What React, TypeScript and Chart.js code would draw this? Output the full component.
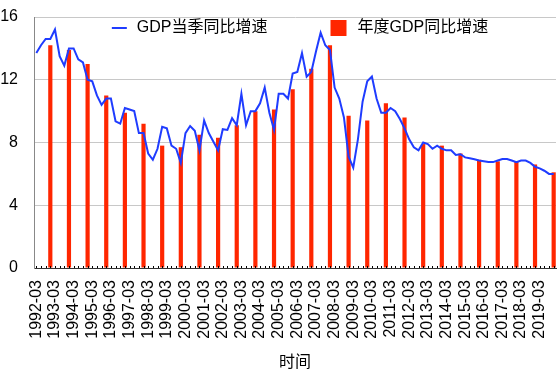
import React, { useEffect, useRef } from 'react';
import { Chart, registerables } from 'chart.js';

Chart.register(...registerables);

const FONT = '"Liberation Sans", Arial, "Noto Sans CJK SC", sans-serif';

const years = [
  1992, 1993, 1994, 1995, 1996, 1997, 1998, 1999, 2000, 2001, 2002, 2003, 2004, 2005,
  2006, 2007, 2008, 2009, 2010, 2011, 2012, 2013, 2014, 2015, 2016, 2017, 2018, 2019,
];
const quarterMonths = ['03', '06', '09', '12'];
const categories = years.flatMap((y) => quarterMonths.map((m) => `${y}-${m}`));

// GDP当季同比增速 (quarterly, %)
const quarterlyGrowth = [
  13.7, 14.2, 14.6, 14.6,
  15.2, 13.5, 12.9, 14.0,
  14.0, 13.3, 13.1, 12.0,
  11.9, 11.0, 10.4, 10.8,
  10.8, 9.35, 9.2, 10.2,
  10.1, 10.0, 8.6, 8.6,
  7.3, 6.9, 7.6, 9.0,
  8.9, 7.8, 7.6, 6.7,
  8.6, 9.05, 8.75, 7.5,
  9.4, 8.6, 8.05, 7.5,
  8.85, 8.8, 9.55, 9.1,
  11.1, 9.1, 10.0, 10.0,
  10.5, 11.5, 9.9, 8.8,
  11.1, 11.1, 10.8, 12.4,
  12.5, 13.7, 12.2, 12.5,
  13.8, 15.0, 14.2, 13.9,
  11.5, 10.8, 9.6, 7.1,
  6.4, 8.2, 10.6, 11.9,
  12.2, 10.8, 9.9, 9.9,
  10.2, 10.0, 9.5, 8.9,
  8.2, 7.7, 7.5, 8.0,
  7.9, 7.6, 7.8, 7.6,
  7.5, 7.5, 7.2, 7.25,
  7.05, 7.0, 6.93, 6.85,
  6.8, 6.75, 6.75, 6.85,
  6.95, 6.95, 6.85, 6.75,
  6.85, 6.85, 6.7, 6.45,
  6.35, 6.2, 6.0, 6.0,
];

// 年度GDP同比增速 (annual, %), plotted at each year's -12 category
const annualGrowth = [
  14.2, 13.9, 13.0, 11.0, 9.9, 9.2, 7.8, 7.7, 8.5, 8.3, 9.1, 10.0, 10.1, 11.4,
  12.7, 14.2, 9.7, 9.4, 10.5, 9.6, 7.9, 7.8, 7.3, 6.9, 6.8, 6.8, 6.6, 6.1,
];

const yTicks = [0, 4, 8, 12, 16];

const lineLabel = 'GDP当季同比增速';
const barLabel = '年度GDP同比增速';
const axisTitle = '时间';

const LINE_COLOR = '#1f3cff';
const BAR_COLOR = '#ff2600';

const tickMarksPlugin = {
  id: 'innerTickMarks',
  afterDatasetsDraw(chart: any) {
    const { ctx, chartArea, scales } = chart;
    const xs = scales.x;
    ctx.save();
    ctx.strokeStyle = '#000';
    ctx.lineWidth = 1;
    ctx.beginPath();
    for (let i = 0; i < categories.length; i++) {
      const x = Math.round(xs.getPixelForValue(i)) + 0.5;
      ctx.moveTo(x, chartArea.bottom);
      ctx.lineTo(x, chartArea.bottom - 2);
    }
    ctx.stroke();
    ctx.restore();
  },
};

const legendPlugin = {
  id: 'innerLegend',
  afterDraw(chart: any) {
    const { ctx, chartArea } = chart;
    ctx.save();
    ctx.font = `16px ${FONT}`;
    ctx.textBaseline = 'middle';
    ctx.fillStyle = '#000';
    const w1 = ctx.measureText(lineLabel).width;
    const w2 = ctx.measureText(barLabel).width;
    const total = 15 + 10 + w1 + 63 + 16 + 11 + w2;
    let x = (chartArea.left + chartArea.right) / 2 - total / 2 + 5;
    const y = chartArea.top + 11;
    ctx.strokeStyle = LINE_COLOR;
    ctx.lineWidth = 2;
    ctx.beginPath();
    ctx.moveTo(x, y);
    ctx.lineTo(x + 15, y);
    ctx.stroke();
    x += 25;
    ctx.fillText(lineLabel, x, y);
    x += w1 + 63;
    ctx.fillStyle = BAR_COLOR;
    ctx.fillRect(x, y - 8, 16, 16);
    x += 27;
    ctx.fillStyle = '#000';
    ctx.fillText(barLabel, x, y);
    ctx.restore();
  },
};

export default function App() {
  const canvasRef = useRef<HTMLCanvasElement | null>(null);

  useEffect(() => {
    if (!canvasRef.current) return;
    const barData = categories.map((c, i) =>
      c.endsWith('-12') ? annualGrowth[Math.floor(i / 4)] : null
    );
    const chart = new Chart(canvasRef.current, {
      type: 'bar',
      data: {
        labels: categories,
        datasets: [
          {
            type: 'line',
            label: lineLabel,
            data: quarterlyGrowth,
            borderColor: LINE_COLOR,
            backgroundColor: LINE_COLOR,
            borderWidth: 2,
            pointRadius: 0,
            tension: 0,
            order: 0,
          } as any,
          {
            type: 'bar',
            label: barLabel,
            data: barData,
            backgroundColor: BAR_COLOR,
            borderWidth: 0,
            barPercentage: 0.9,
            categoryPercentage: 1,
            order: 1,
          } as any,
        ],
      },
      options: {
        animation: false,
        responsive: false,
        maintainAspectRatio: false,
        layout: { padding: { top: 17, right: 1, left: 0, bottom: 0 } },
        plugins: {
          legend: { display: false },
          tooltip: { enabled: false },
        },
        scales: {
          x: {
            offset: true,
            grid: { display: true, drawOnChartArea: false, drawTicks: false },
            border: { display: true, color: '#333', width: 1 },
            afterFit: (scale: any) => {
              scale.paddingLeft = 0;
              scale.paddingRight = 0;
              scale.height = 105;
            },
            ticks: {
              autoSkip: false,
              maxRotation: 90,
              minRotation: 90,
              padding: 12,
              color: '#000',
              font: { family: FONT, size: 16 },
              callback: function (this: any, value: any, index: number) {
                return index % 4 === 0 ? categories[index] : '';
              },
            },
            title: {
              display: true,
              text: axisTitle,
              color: '#000',
              font: { family: FONT, size: 16 },
              padding: { top: 14, bottom: 1 },
            },
          },
          y: {
            min: 0,
            max: 16,
            afterBuildTicks: (scale: any) => {
              scale.ticks = yTicks.map((v) => ({ value: v }));
            },
            afterFit: (scale: any) => {
              scale.width = 34;
              scale.paddingTop = 0;
              scale.paddingBottom = 0;
            },
            grid: { color: '#c8c8c8', lineWidth: 1, drawTicks: false },
            border: { display: true, color: '#888', width: 1 },
            ticks: {
              padding: 16,
              color: '#000',
              font: { family: FONT, size: 16 },
            },
          },
        },
      },
      plugins: [tickMarksPlugin, legendPlugin],
    });
    return () => chart.destroy();
  }, []);

  return (
    <div style={{ position: 'fixed', left: 0, top: 0, width: 557, height: 373, background: '#fff' }}>
      <canvas ref={canvasRef} width={557} height={373} style={{ display: 'block' }} />
    </div>
  );
}
